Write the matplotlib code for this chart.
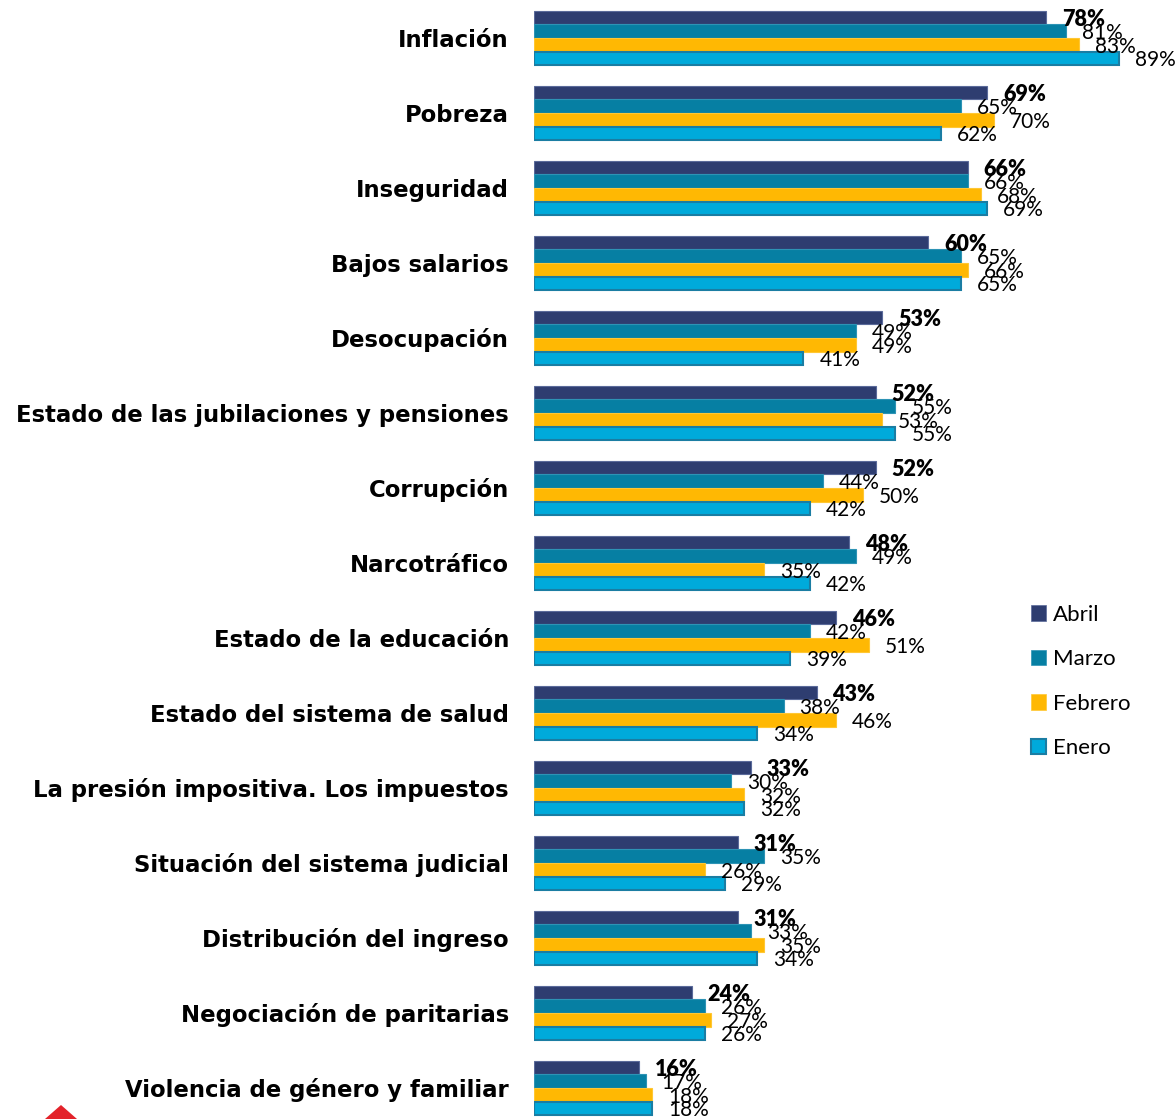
import matplotlib
matplotlib.use('Agg')
import matplotlib.pyplot as plt
from matplotlib.patches import Patch, Polygon
import numpy as np

plt.rcParams['font.family'] = ['Lato', 'DejaVu Sans']

categories = ['Inflación', 'Pobreza', 'Inseguridad', 'Bajos salarios', 'Desocupación',
              'Estado de las jubilaciones y pensiones', 'Corrupción', 'Narcotráfico',
              'Estado de la educación', 'Estado del sistema de salud',
              'La presión impositiva. Los impuestos', 'Situación del sistema judicial',
              'Distribución del ingreso', 'Negociación de paritarias',
              'Violencia de género y familiar']
abril   = [78, 69, 66, 60, 53, 52, 52, 48, 46, 43, 33, 31, 31, 24, 16]
marzo   = [81, 65, 66, 65, 49, 55, 44, 49, 42, 38, 30, 35, 33, 26, 17]
febrero = [83, 70, 68, 66, 49, 53, 50, 35, 51, 46, 32, 26, 35, 27, 18]
enero   = [89, 62, 69, 65, 41, 55, 42, 42, 39, 34, 32, 29, 34, 26, 18]

series = [('Abril', abril, '#2E3D70', '#5A6A9A'),
          ('Marzo', marzo, '#067FA3', '#2D93B5'),
          ('Febrero', febrero, '#FFB803', '#FFC733'),
          ('Enero', enero, '#00AADB', '#1A7DA3')]

W, H = 1176, 1119
fig = plt.figure(figsize=(W / 100, H / 100), dpi=100)
ax = fig.add_axes([534 / W, 0, 1 - 534 / W, 1])

pitch = 75.0
h = 13.6 / pitch
y = np.arange(len(categories))
for k, (name, vals, fc, ec) in enumerate(series):
    off = (k - 1.5) * h
    ax.barh(y + off, vals, height=h, color=fc, edgecolor=ec,
            linewidth=1.5 if name == 'Enero' else 0.8, label=name, zorder=2)
    for yi, v in zip(y, vals):
        ax.annotate(f'{v}%', (v, yi + off), xytext=(11.5, -1.5),
                    textcoords='offset points', ha='left', va='center',
                    fontsize=15.5 if name == 'Abril' else 15, color='black',
                    fontweight='heavy' if name == 'Abril' else 'normal',
                    annotation_clip=False, zorder=3)

ax.set_xlim(0, (W - 534) / 6.57)
top = -38 / pitch
ax.set_ylim((H - 38) / pitch, top)
ax.set_yticks(y)
ax.set_yticklabels(categories, fontsize=16.4, fontweight='bold', family='DejaVu Sans')
ax.tick_params(axis='y', length=0, pad=18)
ax.set_xticks([])
for s in ax.spines.values():
    s.set_visible(False)

handles = [Patch(facecolor=fc, edgecolor=ec, linewidth=1.5 if n == 'Enero' else 0.5)
           for n, _, fc, ec in series]
fig.legend(handles, [s[0] for s in series], loc='upper left',
           bbox_to_anchor=(1022 / W, 1 - 596 / H), frameon=False, fontsize=16,
           handlelength=0.7, handleheight=0.7, handletextpad=0.3, labelspacing=1.1,
           borderaxespad=0)

fig.patches.append(Polygon([[45 / W, 0], [61 / W, 1 - 1105 / H], [77 / W, 0]],
                           closed=True, transform=fig.transFigure,
                           facecolor='#E3222A', edgecolor='none'))

fig.savefig('out.png', dpi=100)
